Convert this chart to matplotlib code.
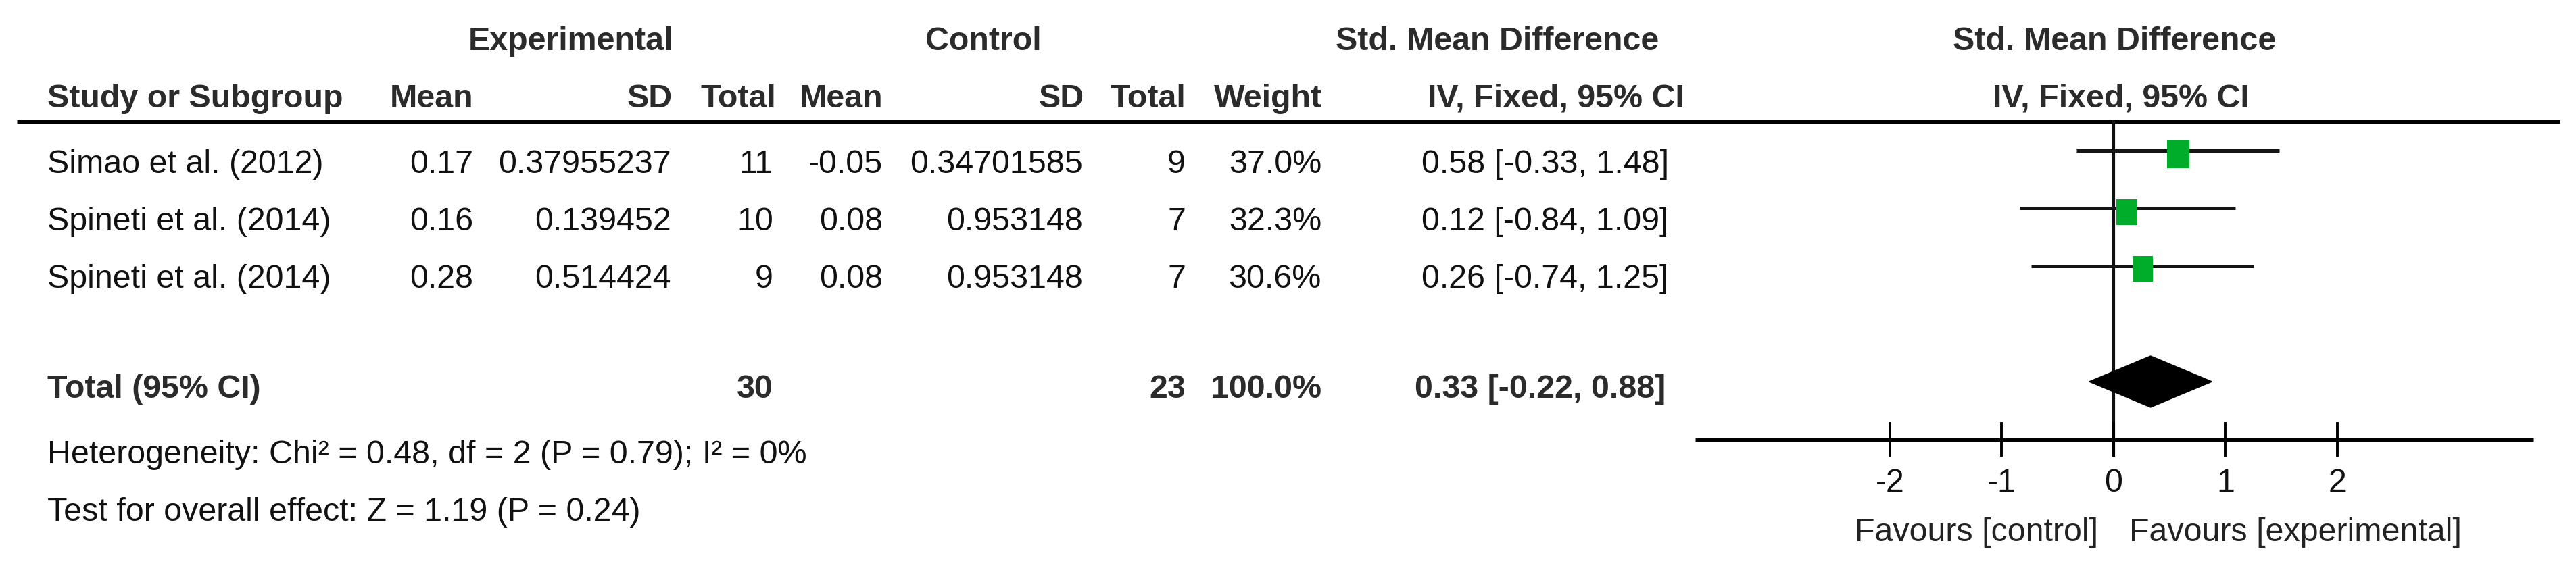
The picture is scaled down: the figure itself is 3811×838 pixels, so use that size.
import matplotlib
matplotlib.use("Agg")
import matplotlib.pyplot as plt
from matplotlib import font_manager as fm
from matplotlib.patches import Rectangle, Polygon

# ---------------- data ----------------
studies = ["Simao et al. (2012)", "Spineti et al. (2014)", "Spineti et al. (2014)"]
exp_mean = [0.17, 0.16, 0.28]
exp_sd = [0.37955237, 0.139452, 0.514424]
exp_total = [11, 10, 9]
ctrl_mean = [-0.05, 0.08, 0.08]
ctrl_sd = [0.34701585, 0.953148, 0.953148]
ctrl_total = [9, 7, 7]
weight = [37.0, 32.3, 30.6]
smd = [0.58, 0.12, 0.26]
ci_low = [-0.33, -0.84, -0.74]
ci_high = [1.48, 1.09, 1.25]

total_exp = 30
total_ctrl = 23
total_weight = 100.0
total_smd = 0.33
total_low = -0.22
total_high = 0.88

heterogeneity = "Heterogeneity: Chi\u00b2 = 0.48, df = 2 (P = 0.79); I\u00b2 = 0%"
overall = "Test for overall effect: Z = 1.19 (P = 0.24)"
tick_values = [-2, -1, 0, 1, 2]
tick_labels = ["-2", "-1", "0", "1", "2"]
favours_left = "Favours [control]"
favours_right = "Favours [experimental]"

# ---------------- fonts ----------------
names = {f.name for f in fm.fontManager.ttflist}
if "Liberation Sans Narrow" in names:
    FONT, FS = "Liberation Sans Narrow", 41.5
else:
    FONT, FS = "Liberation Sans", 34.8
plt.rcParams["font.family"] = [FONT, "DejaVu Sans"]

W, H = 3812, 838
DPI = 100
fig = plt.figure(figsize=(W / DPI, H / DPI), dpi=DPI)
fig.patch.set_facecolor("white")

# table axes in pixel coordinates
tab = fig.add_axes([0, 0, 1, 1])
tab.set_xlim(0, W)
tab.set_ylim(H, 0)
tab.axis("off")

HDR = "#2b2b2b"
TXT = "#111111"
DY = -4  # small baseline shift so glyph centres line up with the reference


def t(x, y, s, ha="left", bold=False, color=None):
    tab.text(x, y + DY, s, ha=ha, va="baseline", fontsize=FS,
             fontweight="bold" if bold else "normal",
             color=color if color else (HDR if bold else TXT))


# group headers
t(844, 78, "Experimental", ha="center", bold=True)
t(1455, 78, "Control", ha="center", bold=True)
t(2215, 78, "Std. Mean Difference", ha="center", bold=True)
t(3128, 78, "Std. Mean Difference", ha="center", bold=True)

# column headers
t(70, 163, "Study or Subgroup", bold=True)
t(700, 163, "Mean", ha="right", bold=True)
t(995, 163, "SD", ha="right", bold=True)
t(1148, 163, "Total", ha="right", bold=True)
t(1306, 163, "Mean", ha="right", bold=True)
t(1604, 163, "SD", ha="right", bold=True)
t(1754, 163, "Total", ha="right", bold=True)
t(1956, 163, "Weight", ha="right", bold=True)
t(2302, 163, "IV, Fixed, 95% CI", ha="center", bold=True)
t(3138, 163, "IV, Fixed, 95% CI", ha="center", bold=True)

# header rule
tab.plot([25, 3787], [180, 180], color="black", lw=3.8, solid_capstyle="butt")

row_base = [260, 345, 430]
for i, yb in enumerate(row_base):
    t(70, yb, studies[i])
    t(700, yb, str(exp_mean[i]), ha="right")
    t(993, yb, str(exp_sd[i]), ha="right")
    t(1144, yb, str(exp_total[i]), ha="right")
    t(1306, yb, str(ctrl_mean[i]), ha="right")
    t(1602, yb, str(ctrl_sd[i]), ha="right")
    t(1754, yb, str(ctrl_total[i]), ha="right")
    t(1955, yb, f"{weight[i]:.1f}%", ha="right")
    t(2469, yb, f"{smd[i]:.2f} [{ci_low[i]:.2f}, {ci_high[i]:.2f}]", ha="right")

# total row
t(70, 593, "Total (95% CI)", bold=True)
t(1144, 593, str(total_exp), ha="right", bold=True)
t(1754, 593, str(total_ctrl), ha="right", bold=True)
t(1955, 593, f"{total_weight:.1f}%", ha="right", bold=True)
t(2464, 593, f"{total_smd:.2f} [{total_low:.2f}, {total_high:.2f}]", ha="right", bold=True)

t(70, 690, heterogeneity)
t(70, 775, overall)

# ---------------- forest axes ----------------
X0 = 2400          # left pixel of forest axes
ZERO = 3127        # pixel of x = 0
UNIT = 165.5       # pixels per SMD unit
fx = fig.add_axes([X0 / W, 0, (W - X0) / W, 1])
fx.set_xlim((X0 - ZERO) / UNIT, (W - ZERO) / UNIT)
fx.set_ylim(H, 0)
fx.axis("off")

GREEN = "#00AD2B"
ci_y = [223, 308, 394]
sq_y = [228, 314, 398]
for i in range(3):
    fx.plot([ci_low[i], ci_high[i]], [ci_y[i], ci_y[i]], color="#151515", lw=3.6,
            solid_capstyle="butt", zorder=2)
    scale = (weight[i] / weight[0]) ** 0.5
    wpx = 33 * scale
    hpx = 41 * scale
    fx.add_patch(Rectangle((smd[i] - wpx / 2 / UNIT, sq_y[i] - hpx / 2), wpx / UNIT, hpx,
                           facecolor=GREEN, edgecolor="none", zorder=3))

# diamond
dy = 565
dh = 76
fx.add_patch(Polygon([(total_low, dy), (total_smd, dy - dh / 2), (total_high, dy),
                      (total_smd, dy + dh / 2)], closed=True,
                     facecolor="black", edgecolor="black", lw=1, zorder=3))

# zero line
fx.plot([0, 0], [180, 674], color="#111111", lw=3.0, zorder=1)
# axis line
fx.plot([-3.74, 3.75], [651, 651], color="black", lw=3.6, solid_capstyle="butt", zorder=1)
for v, lab in zip(tick_values, tick_labels):
    fx.plot([v, v], [627, 674], color="black", lw=2.8, zorder=1)
    fx.text(v, 732 + DY, lab, ha="center", va="baseline", fontsize=FS, color=TXT)

fx.text(-0.14, 805 + DY, favours_left, ha="right", va="baseline", fontsize=FS, color="#222222")
fx.text(0.14, 805 + DY, favours_right, ha="left", va="baseline", fontsize=FS, color="#222222")

fig.savefig("out.png", dpi=DPI, facecolor="white")
